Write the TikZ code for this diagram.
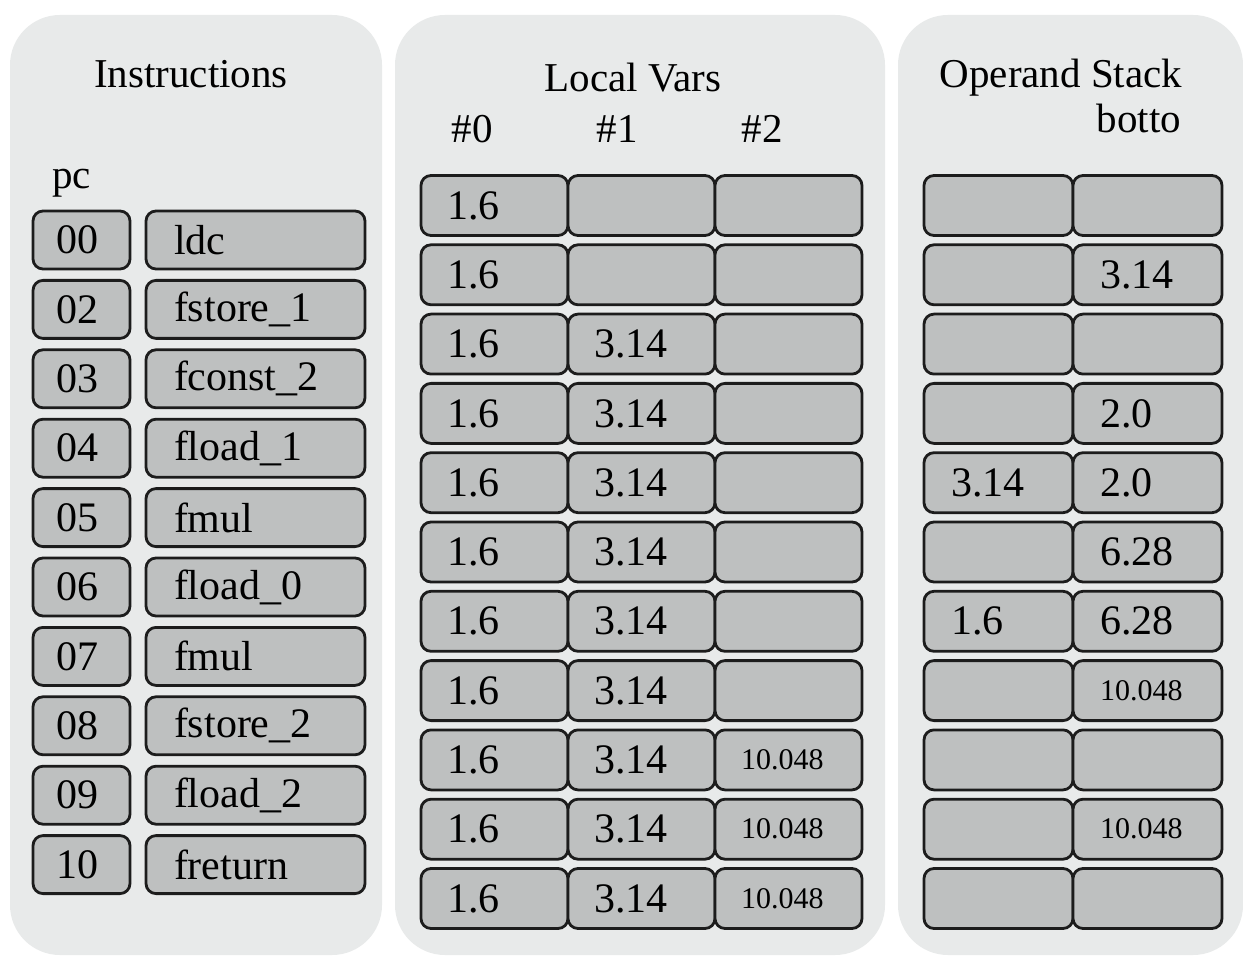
\documentclass[tikz,border=0pt]{standalone}
\usepackage{fontspec}
\setmainfont{Liberation Serif}
\usetikzlibrary{positioning}
\definecolor{panelgray}{RGB}{232,234,234}
\definecolor{cellgray}{RGB}{190,192,192}
\definecolor{celldark}{RGB}{28,28,28}
\newcommand{\hdrfont}{\fontsize{20.5}{24}\selectfont}
\newcommand{\valfont}{\fontsize{21}{24}\selectfont}
\newcommand{\smallval}[1]{{\fontsize{15}{17}\selectfont #1}}
\tikzset{
  panel/.style={fill=panelgray, rounded corners=25pt},
  header/.style={anchor=base, font=\hdrfont, inner sep=0pt},
  cell/.style={rectangle, draw=celldark, fill=cellgray, line width=1.4pt,
    rounded corners=5pt, inner ysep=0pt, align=left, font=\valfont},
  pcbox/.style={cell, minimum height=29pt, inner xsep=11.5pt, text width=25.5pt},
  insbox/.style={cell, minimum height=29pt, inner xsep=14pt, text width=81.5pt},
  varbox/.style={cell, minimum height=30pt, inner xsep=13pt, text width=47.5pt},
  stackbox/.style={cell, minimum height=30pt, inner xsep=13.5pt, text width=47.5pt}
}
\begin{document}
\begin{tikzpicture}[x=0.5pt, y=-0.5pt]
  \fill[white] (0,0) rectangle (1243,957);
  \useasboundingbox (0,0) rectangle (1243,957);
  % three panels
  \fill[panel] (10,15) rectangle (382,955);
  \fill[panel] (395,15) rectangle (885,955);
  \fill[panel] (898,15) rectangle (1243,955);
  % headers
  \node[header] (instr) at (191,88) {Instructions};
  \node[header, anchor=base west] (pc) at (52,189) {pc};
  \node[header] (locals) at (633,92) {Local Vars};
  \node[header] (v0) at (472,143) {\#0};
  \node[header] (v1) at (617,143) {\#1};
  \node[header] (v2) at (762,143) {\#2};
  \node[header] (stack) at (1061,88) {Operand Stack};
  \node[header] (bottom) at (1139,133) {botto};
  % instructions
  \foreach \p/\op [count=\i from 0] in {00/ldc, 02/fstore\_1, 03/fconst\_2,
      04/fload\_1, 05/fmul, 06/fload\_0, 07/fmul, 08/fstore\_2,
      09/fload\_2, 10/freturn}
  {
    \node[pcbox] (pc\i) at (81.5,240+69.4*\i) {\p};
    \node[insbox] (ins\i) at (255.5,240+69.4*\i) {\op};
  }
  % local variables
  \foreach \a/\b/\c [count=\j from 0] in {1.6/{}/{}, 1.6/{}/{}, 1.6/3.14/{},
      1.6/3.14/{}, 1.6/3.14/{}, 1.6/3.14/{}, 1.6/3.14/{}, 1.6/3.14/{},
      1.6/3.14/\smallval{10.048}, 1.6/3.14/\smallval{10.048},
      1.6/3.14/\smallval{10.048}}
  {
    \node[varbox] (lv\j-0) at (494.5,205.5+69.3*\j) {\a};
    \node[varbox] (lv\j-1) at (641.5,205.5+69.3*\j) {\b};
    \node[varbox] (lv\j-2) at (788.5,205.5+69.3*\j) {\c};
  }
  % operand stack
  \foreach \a/\b [count=\j from 0] in {{}/{}, {}/3.14, {}/{}, {}/2.0,
      3.14/2.0, {}/6.28, 1.6/6.28, {}/\smallval{10.048}, {}/{},
      {}/\smallval{10.048}, {}/{}}
  {
    \node[stackbox] (os\j-0) at (998.5,205.5+69.3*\j) {\a};
    \node[stackbox] (os\j-1) at (1147.5,205.5+69.3*\j) {\b};
  }
\end{tikzpicture}
\end{document}
